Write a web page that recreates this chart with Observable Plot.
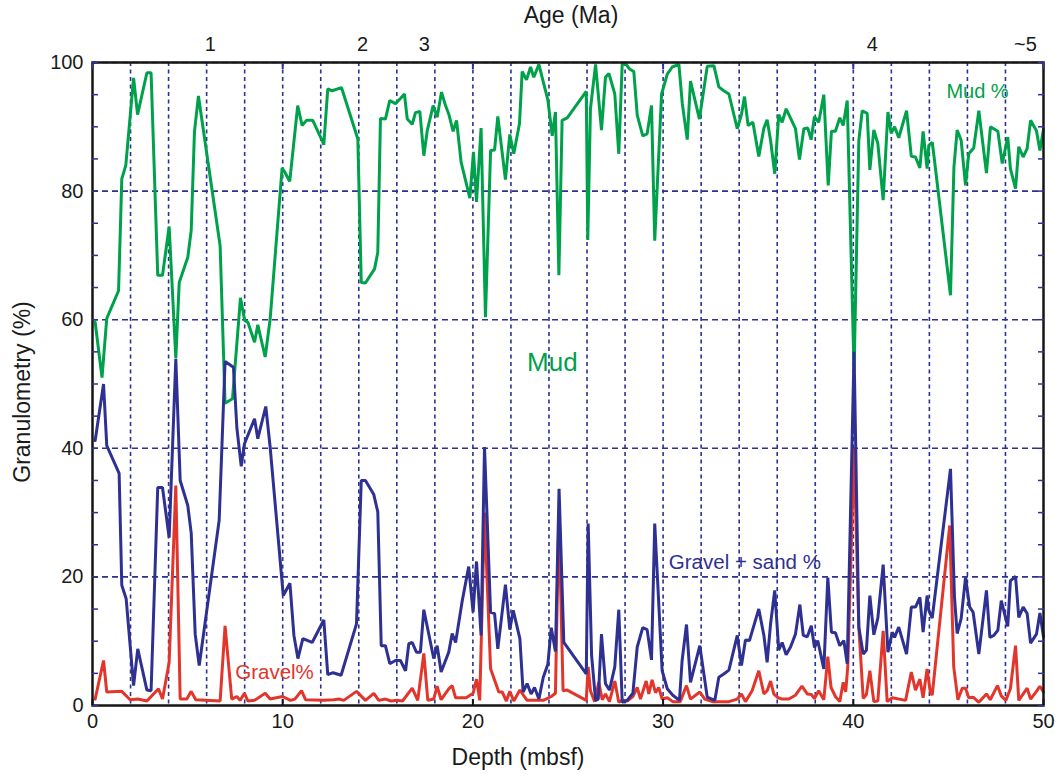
<!DOCTYPE html>
<html><head><meta charset="utf-8">
<script src="https://cdn.jsdelivr.net/npm/d3@7"></script>
<script src="https://cdn.jsdelivr.net/npm/@observablehq/plot@0.6"></script>
<style>body{margin:0;background:#fff} svg{display:block}</style>
</head><body><div id="chart"></div>
<script>
// Mud %
const mudDepth = [0.14,0.5,0.75,1.37,1.54,1.75,2.16,2.37,2.86,3.08,3.43,3.68,4.03,4.38,4.56,5.01,5.19,5.36,5.57,6.71,6.97,7.36,7.78,8.0,8.17,8.52,8.69,9.08,9.34,9.97,10.1,10.37,10.79,11.02,11.25,11.58,12.07,12.16,12.37,12.6,13.09,13.95,14.13,14.35,14.83,15.0,15.14,15.4,15.63,15.93,16.19,16.4,16.55,16.81,16.98,17.21,17.42,17.6,17.91,18.12,18.35,18.56,18.73,18.96,19.14,19.38,19.84,20.03,20.19,20.43,20.66,20.93,21.14,21.31,21.71,21.94,22.15,22.45,22.59,22.82,23.03,23.2,23.47,23.64,23.94,24.17,24.34,24.52,24.69,24.96,25.96,26.04,26.18,26.45,26.76,26.97,27.15,27.46,27.67,27.85,28.06,28.23,28.46,28.64,28.93,29.16,29.39,29.56,29.92,30.22,30.48,30.83,31.01,31.27,31.44,31.91,32.32,32.67,32.93,33.19,33.46,33.9,34.12,34.28,34.47,34.72,35.03,35.3,35.47,35.65,35.87,36.08,36.26,36.47,36.96,37.17,37.4,37.61,37.78,37.96,38.18,38.45,38.68,38.85,39.06,39.29,39.47,39.68,40.04,40.29,40.47,40.73,40.87,41.08,41.29,41.57,41.82,41.99,42.17,42.39,42.8,43.05,43.27,43.5,43.67,43.88,43.97,44.15,44.24,45.11,45.29,45.46,45.67,45.9,46.07,46.33,46.6,47.0,47.21,47.6,47.83,48.12,48.26,48.53,48.7,48.93,49.14,49.32,49.63,49.81,50.0];
const mudPct = [59.6,51,60.2,64.5,81.9,84,97.6,91.9,98.4,98.4,66.9,66.9,74.5,54,65.8,69.7,73.9,89.2,94.8,71.5,47,47.7,63.4,59.9,59.6,56.5,59.2,54.2,60.1,83.6,83,81.5,93.3,90.2,91,91,87.9,87.2,95.9,95.6,96.1,88.1,65.8,65.7,67.9,70.5,91.3,91.2,94.1,93.6,94.4,95.1,91.2,90.4,92.2,92.4,85.5,89.4,93.3,91.5,95.4,93.3,92,89.3,91,84.5,78.9,86.1,78.3,89.8,60.4,86.3,86.4,91.6,81.8,88.8,85.8,90.5,98.6,97.3,99.3,97.7,99.7,97.7,94.2,88.6,92.3,66.9,91,91.4,95.5,72.4,92.8,99.7,89.5,97.7,98.3,95.1,85.8,99.8,99.7,99,98.6,91.8,88.6,88.9,93.3,72.3,95.1,98.2,99.3,99.7,93.6,88,97.1,91.2,99.4,99.5,96.2,95.6,95.1,89.7,91.9,94.7,90.2,90.7,85.4,89.8,91.1,87.9,82.7,91.9,90.7,92.8,89.7,84.9,89.7,89.8,88,91.6,90.7,95,80.9,89.3,89.3,91.4,90.2,94.1,52,87.9,92.5,92.1,83.3,89.5,87.4,78.6,92.3,89,90,88.3,92.5,85.4,85.3,83.6,89.3,83.5,87.1,87.6,85.5,63.8,83.7,89.5,87.9,80.9,85.8,86.7,92.5,82.8,90,89.3,84.3,88.4,83.5,80.4,86.9,85.3,86.6,91,89.4,86.3,89.6];

// Gravel + sand %
const gsDepth = [0.14,0.58,0.75,1.4,1.54,1.77,2.16,2.38,2.86,3.08,3.43,3.68,4.03,4.38,4.61,5.01,5.19,5.4,5.61,6.66,6.97,7.41,7.59,7.82,7.99,8.52,8.69,9.11,9.34,10.03,10.38,10.59,10.8,11.06,11.55,12.16,12.37,12.65,13.07,13.88,14.13,14.35,14.79,15.0,15.18,15.4,15.63,15.93,16.19,16.46,16.63,16.81,17.03,17.24,17.42,17.94,18.12,18.33,18.73,18.91,19.09,19.44,19.78,20.01,20.19,20.43,20.61,20.93,21.14,21.31,21.71,21.94,22.12,22.47,22.64,22.85,23.06,23.24,23.47,23.7,23.94,24.12,24.34,24.53,24.78,25.96,26.06,26.24,26.45,26.59,26.76,26.97,27.18,27.46,27.67,27.85,28.11,28.41,28.64,28.93,29.16,29.39,29.56,29.95,30.22,30.51,30.86,31.0,31.23,31.44,31.93,32.32,32.72,32.93,33.19,33.46,33.9,34.12,34.33,34.54,35.03,35.3,35.47,35.65,35.87,36.08,36.26,36.47,36.7,36.96,37.19,37.37,37.58,37.79,37.96,38.13,38.45,38.66,38.85,39.06,39.29,39.5,39.68,40.04,40.29,40.52,40.69,40.87,41.08,41.29,41.57,41.82,42.05,42.17,42.39,42.8,43.05,43.27,43.5,43.67,43.88,43.97,44.15,44.41,45.11,45.32,45.46,45.67,45.9,46.12,46.3,46.6,47.0,47.18,47.39,47.6,47.78,48.12,48.26,48.53,48.7,48.93,49.14,49.32,49.63,49.81,50.0];
const gsPct = [41.2,50,40.4,36.1,18.7,16.6,3.1,8.8,2.4,2.3,33.9,33.9,26.1,53.9,35,31.1,26.8,11.1,6.2,28.8,53.5,52.6,43.2,37.2,40.7,44.6,41.5,46.5,40.2,17.1,19,10.9,7.3,10.4,9.8,13.3,4.8,5.1,4.7,12.7,35,35,32.8,30.1,9.3,9.3,6.5,7,7,5.4,9.6,9.8,8.3,8.3,14.9,7.3,9.3,5.2,8.3,11.2,9.8,16.3,21.6,14.5,22.4,10.9,40.2,14.5,14.3,8.8,18.8,11.8,14.8,10.4,2.1,3.4,1.8,2.8,1,4.4,6.4,12.1,8.4,33.7,9.8,4.9,28.3,7.8,0.8,1,11.1,3.4,2.4,6,14.9,0.5,0.8,1.9,9.1,12.1,11.8,7.1,28.3,5.4,2.6,1.6,0.8,7,12.6,3.6,9.3,1.3,0.8,4.4,4.9,5.5,10.9,6.2,10.2,10.1,15,10.9,6.7,12.7,17.9,8.6,9.8,7.9,9.1,11.1,15.7,10.9,10.7,12.4,9,10.1,5.7,19.9,11.4,11.3,9.3,10.1,6.5,55,12.2,8,8.6,17.1,11,13.6,21.9,8.3,11.4,10.6,12.2,8,15.3,15.3,16.8,11.4,17.1,14.8,13.6,19.9,36.8,16.8,11.2,13.5,19.9,15.3,14.5,8,17.9,10.6,10.9,11.7,16.3,12.3,19.4,20.1,13.7,15.3,14.3,9.7,11.1,14.4,10.7];

// Gravel %
const gravelDepth = [0.14,0.58,0.75,1.54,1.98,2.38,2.86,3.47,3.68,4.03,4.38,4.61,4.96,5.19,5.43,6.71,6.97,7.32,7.59,7.76,7.99,8.17,8.52,9.08,9.34,9.99,10.41,10.64,10.99,11.2,12.16,12.69,12.95,13.21,13.88,14.35,14.79,15.05,15.4,15.7,16.0,16.3,16.81,17.1,17.42,17.63,17.94,18.12,18.33,18.73,18.91,19.09,19.65,20.01,20.19,20.36,20.61,20.93,21.36,21.54,21.76,21.94,22.15,22.47,22.85,23.7,24.12,24.34,24.52,24.74,24.96,25.96,26.06,26.18,26.4,26.62,26.8,26.97,27.18,27.46,27.67,27.85,28.11,28.41,28.64,28.81,29.11,29.25,29.42,29.6,29.77,29.95,30.22,30.51,30.9,31.23,31.44,31.93,32.19,32.6,33.46,33.9,34.12,34.33,34.68,35.03,35.3,35.47,35.65,35.82,36.05,36.26,36.61,36.96,37.3,37.58,37.79,37.96,38.18,38.45,38.66,38.83,39.06,39.29,39.47,39.6,39.71,40.04,40.29,40.52,40.69,40.87,41.08,41.29,41.57,41.78,42.05,42.75,43.05,43.27,43.5,43.67,43.88,44.05,44.15,45.07,45.28,45.5,45.73,45.9,46.07,46.3,46.6,47.0,47.2,47.58,47.78,48.02,48.26,48.53,48.7,49.14,49.32,49.63,49.81,50.0];
const gravelPct = [1,7,2.1,2.2,0.9,1,0.7,2.6,1,6.7,34.2,1,1,2.2,0.9,0.7,12.4,1,1.4,0.8,1.9,0.7,0.8,1.9,1,1.4,0.8,1,2.3,0.9,0.8,0.9,1,0.8,2.2,0.8,1.9,0.8,1,0.7,0.8,0.7,2.7,0.8,8.1,0.8,1,3,0.9,2.6,3.1,1.2,1.2,1.9,4.1,0.8,30,5.7,2.1,2.1,0.7,2.2,0.7,2.4,0.8,0.8,1.4,1.9,30,2.3,2.4,0.8,6,2.3,0.6,3.6,0.9,1.8,0.6,3.8,0.5,0.8,0.7,1.4,2.8,1,3.8,1.8,4,2,2.8,1,1.2,0.6,0.6,3.1,1,2.1,1,0.6,0.6,1,1.8,0.6,2.3,5.4,1.8,2.3,3.8,1.8,1.2,1,1,1.6,3,1.8,1.7,1.1,2.3,0.9,7.6,2.8,1.4,0.6,3.6,2.1,6.1,40,12.2,1.1,1.7,5.4,0.6,0.7,11.6,0.6,1.2,0.8,5.2,2.4,4.1,1.2,5.7,2.1,1.6,28,6,0.9,2.7,2.7,1.2,1.3,0.5,1.8,0.9,3.1,1.5,0.8,2.6,9.3,0.8,2.7,1,2.2,3,2.1];

// Axes / labels
const depthTicks = [0,10,20,30,40,50];
const pctLabels = [0,20,40,60,80,100];
const pctMinor = d3.range(0,101,5);
const gridDepths = d3.range(2,50,2);
const gridPcts = [20,40,60,80,100];
const ageDepth = [6.2,14.2,17.45,41.0,49.05];
const ageLabel = ["1","2","3","4","~5"];

// Annotations
const noteText = ["Mud %","Mud","Gravel + sand %","Gravel%"];
const noteDepth = [46.53,24.18,34.3,9.57];
const notePct = [95.5,53.3,22.2,5.1];
const noteColor = ["#00a14b","#00a14b","#2e3192","#e2362c"];
const noteSize = [20,26,20.5,20.5];

const navy = "#2e3192", green = "#00a14b", red = "#e2362c";
const rows = (xs, ys) => xs.map((d, i) => ({depth: d, pct: ys[i]}));
const mud = rows(mudDepth, mudPct);
const gs = rows(gsDepth, gsPct);
const gravel = rows(gravelDepth, gravelPct);
const notes = noteText.map((t, i) => ({t, x: noteDepth[i], y: notePct[i], c: noteColor[i], s: noteSize[i]}));
const font = "'Liberation Sans', Arial, Helvetica, sans-serif";

const chart = Plot.plot({
  width: 1057, height: 778,
  marginLeft: 92, marginRight: 14, marginTop: 62, marginBottom: 73,
  style: {fontFamily: font, fontSize: "20px", color: "#1a1a1a", background: "white", overflow: "visible"},
  x: {domain: [0, 50]},
  y: {domain: [0, 100]},
  marks: [
    Plot.ruleX(gridDepths, {stroke: navy, strokeWidth: 1.6, strokeDasharray: "4,3.5"}),
    Plot.ruleY(gridPcts, {stroke: navy, strokeWidth: 1.6, strokeDasharray: "6,4"}),
    Plot.line(mud, {x: "depth", y: "pct", stroke: green, strokeWidth: 3, strokeLinejoin: "miter"}),
    Plot.line(gravel, {x: "depth", y: "pct", stroke: red, strokeWidth: 3, strokeLinejoin: "miter"}),
    Plot.line(gs, {x: "depth", y: "pct", stroke: navy, strokeWidth: 3, strokeLinejoin: "miter"}),
    Plot.frame({stroke: "#151515", strokeWidth: 2.5}),
    Plot.axisY(pctMinor, {anchor: "left", tickSize: -6, tickFormat: () => "", stroke: navy, strokeWidth: 1.5, label: null}),
    Plot.axisY(pctMinor, {anchor: "right", tickSize: -6, tickFormat: () => "", stroke: navy, strokeWidth: 1.5, label: null}),
    Plot.axisY(pctLabels, {anchor: "left", tickSize: 0, tickPadding: 9, label: null, fontSize: 20}),
    Plot.axisX(depthTicks, {anchor: "bottom", tickSize: -6, tickPadding: 14, label: null, fontSize: 20, stroke: "#151515", strokeWidth: 2}),
    Plot.axisX(depthTicks, {anchor: "top", tickSize: -6, tickFormat: () => "", label: null, stroke: navy, strokeWidth: 2}),
    Plot.text(ageLabel, {x: (d, i) => ageDepth[i], frameAnchor: "top", dy: -18, lineAnchor: "middle", fontSize: 20}),
    Plot.text(["Age (Ma)"], {frameAnchor: "top", dy: -47, dx: 3, lineAnchor: "middle", textAnchor: "middle", fontSize: 23}),
    Plot.text(["Depth (mbsf)"], {frameAnchor: "bottom", dy: 52, dx: -50, lineAnchor: "middle", textAnchor: "middle", fontSize: 23}),
    Plot.text(["Granulometry (%)"], {frameAnchor: "left", dx: -70, dy: 8, rotate: -90, lineAnchor: "middle", textAnchor: "middle", fontSize: 23}),
    Plot.text(notes, {x: "x", y: "y", text: "t", fill: "c", fontSize: "s", lineAnchor: "middle"})
  ]
});
document.getElementById("chart").appendChild(chart);
</script>
</body></html>
